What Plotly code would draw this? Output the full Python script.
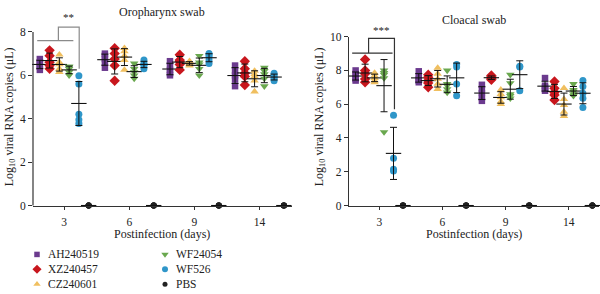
import numpy as np
import plotly.graph_objects as go

days = ["3", "6", "9", "14"]
groups = ["AH240519", "XZ240457", "CZ240601", "WF24054", "WF526", "PBS"]
colors = ["#6b3a8e", "#c8161d", "#f0bf5f", "#6aa84f", "#2f96c9", "#222222"]
symbols = ["square", "diamond", "triangle-up", "triangle-down", "circle", "circle"]
sizes = [6.5, 8, 7.5, 7.5, 7, 6]

# Oropharynx swab (log10 viral RNA copies), one list per day: 3, 6, 9, 14
oro_AH240519 = [[6.25, 6.4, 6.5, 6.6, 6.75], [6.35, 6.6, 6.75, 6.9, 7.0],
                [6.0, 6.1, 6.25, 6.45, 6.65], [5.5, 5.8, 6.0, 6.2, 6.45]]
oro_XZ240457 = [[6.3, 6.45, 6.6, 6.9, 7.15], [5.75, 6.45, 6.75, 7.0, 7.25],
                [6.25, 6.5, 6.65, 6.7, 6.95], [5.55, 5.95, 6.1, 6.3, 6.65]]
oro_CZ240601 = [[6.15, 6.3, 6.5, 6.6, 6.95], [6.25, 6.7, 6.9, 7.1, 7.25],
                [6.45, 6.5, 6.55, 6.6, 6.65], [5.25, 5.75, 5.95, 6.05, 6.2]]
oro_WF24054 = [[6.0, 6.15, 6.3, 6.4, 6.4], [5.85, 6.0, 6.15, 6.3, 6.55],
               [6.0, 6.3, 6.5, 6.6, 6.9], [5.5, 5.85, 6.05, 6.2, 6.35]]
oro_WF526 = [[5.98, 5.6, 4.2, 3.95, 3.78], [6.3, 6.45, 6.5, 6.55, 6.7],
             [6.55, 6.7, 6.85, 6.95, 7.0], [5.75, 5.85, 5.9, 6.0, 6.1]]
oro_PBS = [[0, 0, 0, 0, 0], [0, 0, 0, 0, 0], [0, 0, 0, 0, 0], [0, 0, 0, 0, 0]]

# Cloacal swab
clo_AH240519 = [[7.4, 7.5, 7.65, 7.8, 8.0], [7.3, 7.4, 7.5, 7.65, 7.95],
                [6.2, 6.4, 6.65, 6.9, 7.15], [6.8, 6.9, 7.0, 7.1, 7.55]]
clo_XZ240457 = [[7.3, 7.5, 7.8, 8.0, 8.65], [7.0, 7.25, 7.4, 7.6, 7.75],
                [7.45, 7.5, 7.55, 7.65, 7.7], [6.25, 6.55, 6.7, 6.95, 7.35]]
clo_CZ240601 = [[7.3, 7.4, 7.55, 7.7, 7.85], [6.9, 7.2, 7.5, 7.8, 8.15],
                [6.0, 6.15, 6.4, 6.6, 6.85], [5.3, 5.55, 5.95, 6.3, 6.95]]
clo_WF24054 = [[4.35, 7.55, 7.75, 7.85, 8.0], [6.7, 6.9, 7.1, 7.2, 8.0],
               [6.35, 6.5, 6.6, 7.25, 7.75], [6.5, 6.6, 6.75, 6.85, 7.2]]
clo_WF526 = [[5.35, 2.8, 2.15, 2.05], [6.5, 7.2, 8.2, 8.35],
             [6.8, 8.2, 8.25], [5.8, 6.35, 6.65, 7.05, 7.4]]
clo_PBS = [[0, 0, 0, 0, 0], [0, 0, 0, 0, 0], [0, 0, 0, 0, 0], [0, 0, 0, 0, 0]]

oro = [oro_AH240519, oro_XZ240457, oro_CZ240601, oro_WF24054, oro_WF526, oro_PBS]
clo = [clo_AH240519, clo_XZ240457, clo_CZ240601, clo_WF24054, clo_WF526, clo_PBS]

FONT = "Liberation Serif"
W, H = 600, 294
step = 0.15

fig = go.Figure()


def add_panel(data, xa, ya):
    for gi, g in enumerate(groups):
        off = (gi - 2.5) * step
        xs, ys, mx, my, sd = [], [], [], [], []
        for di, vals in enumerate(data[gi]):
            xs += [di + off] * len(vals)
            ys += list(vals)
            mx.append(di + off)
            my.append(float(np.mean(vals)))
            sd.append(float(np.std(vals, ddof=1)) if len(vals) > 1 else 0.0)
        fig.add_trace(go.Scatter(
            x=xs, y=ys, mode="markers", xaxis=xa, yaxis=ya, showlegend=False,
            cliponaxis=False,
            marker=dict(symbol=symbols[gi], color=colors[gi], size=sizes[gi],
                        line=dict(width=0))))
        fig.add_trace(go.Scatter(
            x=mx, y=my, mode="markers", xaxis=xa, yaxis=ya, showlegend=False,
            cliponaxis=False,
            marker=dict(symbol="line-ew", size=11, color="#111",
                        line=dict(width=1.1, color="#111")),
            error_y=dict(type="data", array=sd, visible=True, color="#111",
                         thickness=1, width=3.5)))


add_panel(oro, "x", "y")
add_panel(clo, "x2", "y2")

ydom = [1 - 208 / H, 1 - 15.7 / H]
ydom2 = [1 - 208 / H, 1 - 32 / H]
xdom = [33 / W, 292 / W]
xdom2 = [349 / W, 599 / W]
yr1 = [0, 8.5]
yr2 = [0, 10]

axis_common = dict(showgrid=False, zeroline=False, linecolor="#333", linewidth=1.2,
                   ticks="outside", tickcolor="#333", tickwidth=1,
                   tickfont=dict(family=FONT, size=11.5, color="#222"))

fig.update_layout(
    width=W, height=H, margin=dict(l=0, r=0, t=0, b=0),
    plot_bgcolor="rgba(0,0,0,0)", paper_bgcolor="white", showlegend=False,
    xaxis=dict(domain=xdom, range=[-0.48, 3.5], tickvals=[0, 1, 2, 3], ticktext=days,
               showline=True, ticklen=3, ticklabelstandoff=3, anchor="y", **axis_common),
    yaxis=dict(domain=ydom, range=yr1, tickvals=[0, 2, 4, 6, 8], showline=False,
               ticklen=4, anchor="x", **axis_common),
    xaxis2=dict(domain=xdom2, range=[-0.48, 3.48], tickvals=[0, 1, 2, 3], ticktext=days,
                showline=True, ticklen=3, ticklabelstandoff=3, anchor="y2", **axis_common),
    yaxis2=dict(domain=ydom2, range=yr2, tickvals=[0, 2, 4, 6, 8, 10], showline=True,
                ticklen=4, anchor="x2", **axis_common),
    xaxis3=dict(domain=[0, 1], range=[0, W], visible=False, anchor="y3"),
    yaxis3=dict(domain=[0, 1], range=[H, 0], visible=False, anchor="x3"),
)

# left y-axis line up to 8 only
y8 = ydom[0] + (8 / yr1[1]) * (ydom[1] - ydom[0])
fig.add_shape(type="line", xref="paper", yref="paper", x0=xdom[0], x1=xdom[0],
              y0=ydom[0], y1=y8, line=dict(color="#333", width=1.2))

# significance brackets
fig.add_shape(type="path", xref="x", yref="y",
              path="M -0.415,7.6 L 0.14,7.6 M -0.09,7.6 L -0.09,8.22 L 0.23,8.22 L 0.23,6.3",
              line=dict(color="#8a8a8a", width=1.2))
fig.add_annotation(x=0.07, y=8.3, xref="x", yref="y", text="**", showarrow=False,
                   yanchor="bottom", font=dict(family=FONT, size=11, color="#222"))
fig.add_shape(type="path", xref="x2", yref="y2",
              path="M -0.43,9.03 L 0.21,9.03 M -0.17,9.03 L -0.17,9.9 L 0.24,9.9 L 0.24,5.7",
              line=dict(color="#333", width=1.2))
fig.add_annotation(x=0.03, y=9.95, xref="x2", yref="y2", text="***", showarrow=False,
                   yanchor="bottom", font=dict(family=FONT, size=11, color="#222"))

# titles
txt_font = dict(family=FONT, size=11.5, color="#222")
for txt, cx, cy in [("Oropharynx swab", 162, 6), ("Cloacal swab", 474, 15)]:
    fig.add_annotation(x=cx / W, y=1 - cy / H, xref="paper", yref="paper", text=txt,
                       xanchor="center", yanchor="middle", showarrow=False,
                       font=dict(family=FONT, size=12, color="#222"))
for cx in [162, 474]:
    fig.add_annotation(x=cx / W, y=1 - 238 / H, xref="paper", yref="paper",
                       text="Postinfection (days)", xanchor="center", yanchor="middle",
                       showarrow=False, font=dict(family=FONT, size=12, color="#222"))
for cx in [10, 320]:
    fig.add_annotation(x=cx / W, y=1 - 116 / H, xref="paper", yref="paper",
                       text="Log<sub>10</sub> viral RNA copies (μL)", textangle=-90,
                       xanchor="center", yanchor="middle",
                       showarrow=False, font=dict(family=FONT, size=12, color="#222"))

# legend (drawn manually in pixel space)
for gi, g in enumerate(groups):
    col, row = gi // 3, gi % 3
    lx = 37 + col * 128
    ly = 259 + row * 15.5
    fig.add_trace(go.Scatter(x=[lx], y=[ly], mode="markers", xaxis="x3", yaxis="y3",
                             showlegend=False, cliponaxis=False,
                             marker=dict(symbol=symbols[gi], color=colors[gi],
                                         size=sizes[gi] - 1, line=dict(width=0))))
    fig.add_annotation(x=lx + 9, y=ly, xref="x3", yref="y3", text=g, xanchor="left",
                       yanchor="middle", showarrow=False, font=txt_font)

fig.write_html("out.html")
